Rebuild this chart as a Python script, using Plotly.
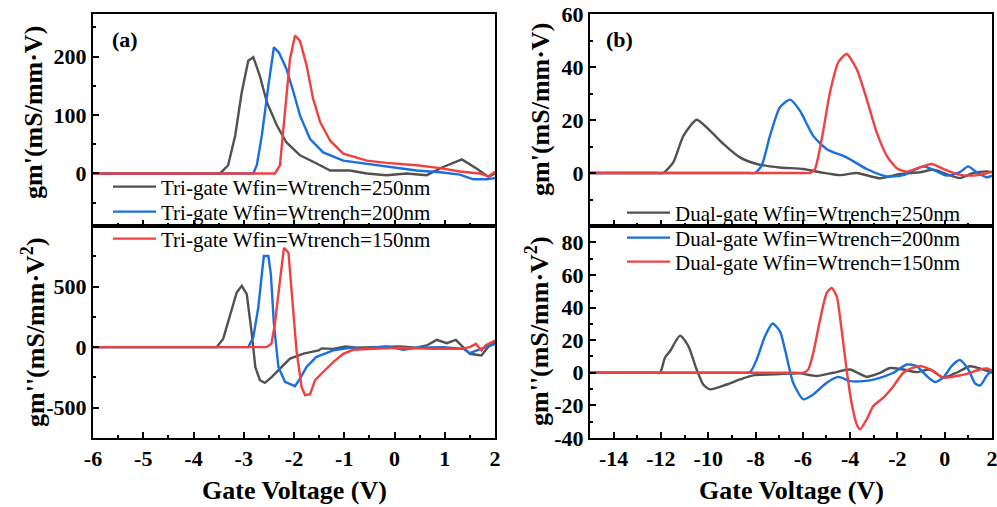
import plotly.graph_objects as go

# ---------------- data ----------------
# (a) Tri-gate, gm'
tri_x_250 = [-6, -3.47, -3.31, -3.17, -3.04, -2.91, -2.81, -2.68, -2.54, -2.34, -2.15, -1.88, -1.55, -1.28, -0.89, -0.55, -0.16, 0.24, 0.64, 0.97, 1.34, 1.64, 1.87, 2.0]
tri_gm1_250 = [0, 0, 14, 65, 139, 193, 199, 167, 122, 82, 53, 31, 17, 5, 5, 0, -3, 0, -3, 11, 24, 8, -6, 0]
tri_x_200 = [-6, -2.81, -2.74, -2.64, -2.51, -2.40, -2.30, -2.15, -2.01, -1.88, -1.68, -1.42, -1.02, -0.55, -0.02, 0.44, 0.91, 1.30, 1.57, 1.84, 2.0]
tri_gm1_200 = [0, 0, 14, 65, 150, 216, 207, 179, 139, 99, 59, 36, 22, 16.5, 11, 5, 2, -2, -10, -10, -8]
tri_x_150 = [-6, -2.38, -2.28, -2.18, -2.08, -1.98, -1.88, -1.75, -1.62, -1.48, -1.28, -1.02, -0.55, -0.16, 0.44, 0.91, 1.30, 1.70, 1.87, 2.0]
tri_gm1_150 = [0, 0, 14, 111, 196, 236, 227, 185, 128, 88, 56, 34, 22, 18, 14, 9, 3.4, 0, -5, 3]

# (a) Tri-gate, gm''
tri_x2_250 = [-6, -3.54, -3.41, -3.27, -3.14, -3.04, -2.94, -2.84, -2.77, -2.68, -2.58, -2.44, -2.28, -2.08, -1.81, -1.51, -1.45, -1.22, -0.98, -0.75, -0.42, 0.11, 0.44, 0.64, 0.84, 1.04, 1.22, 1.37, 1.50, 1.73, 1.87, 2.0]
tri_gm2_250 = [0, 0, 68, 274, 451, 506, 438, 110, -164, -273, -295, -246, -177, -95, -54, -27, -10, -14, 5, -5, 0, 5, -5, 14, 60, 33, 60, 0, -55, -68, 5, 50]
tri_x2_200 = [-6, -2.91, -2.81, -2.71, -2.64, -2.60, -2.51, -2.46, -2.40, -2.31, -2.18, -1.98, -1.88, -1.75, -1.56, -1.22, -0.89, -0.55, -0.15, 0.18, 0.44, 0.97, 1.37, 1.50, 1.64, 1.84, 2.0]
tri_gm2_200 = [0, 0, 82, 328, 601, 752, 752, 601, 192, -164, -287, -322, -259, -164, -82, -27, -5, -8, 5, -22, -5, 0, -14, -50, -27, 5, 27]
tri_x2_150 = [-6, -2.55, -2.45, -2.38, -2.28, -2.20, -2.11, -2.05, -1.95, -1.85, -1.78, -1.68, -1.58, -1.42, -1.22, -1.02, -0.82, -0.42, 0.11, 0.77, 1.30, 1.50, 1.62, 1.73, 1.81, 2.0]
tri_gm2_150 = [0, 0, 27, 192, 547, 820, 779, 465, -27, -328, -396, -388, -273, -205, -123, -55, -22, -14, -5, -14, -14, 0, 27, -27, 14, 55]

# (b) Dual-gate, gm'
dual_x_250 = [-15, -12.2, -11.90, -11.48, -11.05, -10.49, -9.93, -9.36, -8.66, -7.95, -6.97, -5.98, -5.27, -4.43, -3.72, -2.74, -1.89, -1.05, -0.48, 0.08, 0.64, 1.21, 1.77, 2.0]
dual_gm1_250 = [0, 0, 0, 4, 14, 20.1, 16, 11, 5.9, 3.4, 2.1, 1.5, 0.3, -0.8, 0, -2, -0.4, 0.3, 1.2, -0.4, -1.9, 0, 0.6, 0.3]
dual_x_200 = [-15, -8.3, -8.02, -7.74, -7.39, -6.97, -6.54, -6.12, -5.56, -4.99, -4.15, -3.30, -2.45, -1.75, -0.91, -0.48, 0.08, 0.64, 0.99, 1.35, 1.77, 2.0]
dual_gm1_200 = [0, 0, 0, 2.8, 14, 24.8, 27.7, 23.5, 14, 9, 5.9, 1.5, -1.3, -0.8, 2.5, 1.2, -1, 0.3, 2.5, 0.3, -1.6, -1]
dual_x_150 = [-15, -6.0, -5.70, -5.49, -5.20, -4.85, -4.50, -4.15, -3.72, -3.30, -2.88, -2.45, -2.03, -1.61, -1.05, -0.55, -0.05, 0.51, 1.07, 1.63, 2.0]
dual_gm1_150 = [0, 0, 0, 1.5, 12.8, 30.5, 41.8, 44.9, 39.2, 27.9, 15.4, 6.5, 1.8, 0.5, 2.1, 3.4, 1.5, -0.4, -1, -0.4, 0.5]

# (b) Dual-gate, gm''
dual_x2_250 = [-15, -12.3, -12.04, -11.83, -11.62, -11.19, -10.84, -10.49, -10.21, -9.93, -9.22, -8.66, -8.10, -6.97, -6.12, -5.42, -4.71, -4.01, -3.30, -2.73, -2.31, -1.75, -1.19, -0.62, -0.06, 0.50, 1.07, 1.63, 2.0]
dual_gm2_250 = [0, 0, 0, 9.2, 13.2, 22.8, 16.3, 2, -7.2, -10.2, -7.2, -4.1, -1.6, -0.8, -0.4, -2, 0, 2, -2.4, 0, 2.9, 2, 0.4, 2, -3, 0, 4, 2, 0]
dual_x2_200 = [-15, -9.1, -8.80, -8.23, -7.95, -7.60, -7.28, -6.97, -6.69, -6.41, -5.98, -5.56, -4.99, -4.50, -4.01, -3.44, -2.88, -2.17, -1.61, -1.19, -0.76, -0.41, -0.06, 0.29, 0.64, 1.00, 1.28, 1.49, 1.77, 2.0]
dual_gm2_200 = [0, 0, 0, 0.4, 8.2, 22.4, 30.2, 25.5, 10.2, -6.1, -16.3, -13.3, -6.1, -2.5, -5.1, -5.1, -3.7, 0, 5.1, 4.1, -2, -5.7, -3, 4.1, 7.8, 2, -6.5, -7.8, -2, 2]
dual_x2_150 = [-15, -6.3, -5.98, -5.77, -5.56, -5.27, -4.99, -4.78, -4.57, -4.36, -4.15, -3.94, -3.72, -3.58, -3.30, -3.02, -2.60, -2.17, -1.75, -1.33, -0.98, -0.48, -0.06, 0.50, 1.00, 1.49, 1.84, 2.0]
dual_gm2_150 = [0, 0, 0, 2, 12.2, 32.7, 49, 52, 47, 26.5, 2, -18.4, -31.7, -34.7, -28.6, -20.4, -15.3, -8.2, 0, 3.1, 4.1, 1, -3, -2, -0.4, 2, 2.5, 1]

tri_names = ["Tri-gate Wfin=Wtrench=250nm", "Tri-gate Wfin=Wtrench=200nm", "Tri-gate Wfin=Wtrench=150nm"]
dual_names = ["Dual-gate Wfin=Wtrench=250nm", "Dual-gate Wfin=Wtrench=200nm", "Dual-gate Wfin=Wtrench=150nm"]
colors = ["#515151", "#1A6FDF", "#F14040"]

# tick values / labels
left_x_ticks = [-6, -5, -4, -3, -2, -1, 0, 1, 2]
right_x_ticks = [-14, -12, -10, -8, -6, -4, -2, 0, 2]
left_top_y_ticks = [0, 100, 200]
left_bot_y_ticks = [-500, 0, 500]
right_top_y_ticks = [0, 20, 40, 60]
right_bot_y_ticks = [-40, -20, 0, 20, 40, 60, 80]


def labels(vals):
    return [str(v) for v in vals]


# ---------------- figure ----------------
W, H = 997, 507
fig = go.Figure()


def px_x(p):
    return p / W


def px_y(p):
    return 1 - p / H


LX = [px_x(93), px_x(495)]
RX = [px_x(590), px_x(992)]
TOPY = [px_y(226), px_y(14)]
BOTY = [px_y(438), px_y(226)]

LW = 2.4
panels = [
    ("x", "y", [tri_x_250, tri_x_200, tri_x_150], [tri_gm1_250, tri_gm1_200, tri_gm1_150], tri_names, ["legend", "legend2", "legend3"], True, "linear"),
    ("x2", "y2", [tri_x2_250, tri_x2_200, tri_x2_150], [tri_gm2_250, tri_gm2_200, tri_gm2_150], tri_names, ["legend", "legend2", "legend3"], False, "linear"),
    ("x3", "y3", [dual_x_250, dual_x_200, dual_x_150], [dual_gm1_250, dual_gm1_200, dual_gm1_150], dual_names, ["legend4", "legend5", "legend6"], True, "spline"),
    ("x4", "y4", [dual_x2_250, dual_x2_200, dual_x2_150], [dual_gm2_250, dual_gm2_200, dual_gm2_150], dual_names, ["legend4", "legend5", "legend6"], False, "spline"),
]
for xa, ya, xs, ys, names, legs, show, shape in panels:
    for i in range(3):
        line = dict(color=colors[i], width=LW, shape=shape)
        if shape == "spline":
            line["smoothing"] = 0.6
        fig.add_trace(go.Scatter(
            x=xs[i], y=ys[i], mode="lines", name=names[i], line=line,
            xaxis=xa, yaxis=ya, legend=legs[i], showlegend=show,
        ))

tickfont = dict(family="Liberation Serif", size=22, color="black", weight="bold")
axis_common = dict(showline=True, linecolor="black", linewidth=2, mirror=True,
                   ticks="inside", ticklen=6, tickwidth=2, tickcolor="black",
                   showgrid=False, zeroline=False, tickfont=tickfont, automargin=False,
                   ticklabeloverflow="allow")


def minor(**kw):
    d = dict(ticks="inside", ticklen=3, tickwidth=2, tickcolor="black")
    d.update(kw)
    return d


legend_font = dict(family="Liberation Serif", size=21, color="black")


def leg(xp, yp):
    return dict(x=px_x(xp), y=px_y(yp), xanchor="left", yanchor="middle",
                bgcolor="rgba(0,0,0,0)", font=legend_font, itemwidth=43,
                tracegroupgap=0, borderwidth=0)


fig.update_layout(
    width=W, height=H, margin=dict(l=0, r=0, t=0, b=0, autoexpand=False),
    paper_bgcolor="white", plot_bgcolor="white",
    xaxis=dict(domain=LX, anchor="y", range=[-6, 2], tickvals=left_x_ticks, showticklabels=False,
               minor=minor(dtick=0.5), **axis_common),
    yaxis=dict(domain=TOPY, anchor="x", range=[-90, 273], tickvals=left_top_y_ticks, ticktext=labels(left_top_y_ticks),
               minor=minor(tickvals=[-50, 50, 150, 250]), **axis_common),
    xaxis2=dict(domain=LX, anchor="y2", range=[-6, 2], tickvals=left_x_ticks, ticktext=labels(left_x_ticks),
                minor=minor(dtick=0.5), **axis_common),
    yaxis2=dict(domain=BOTY, anchor="x2", range=[-750, 1000], tickvals=left_bot_y_ticks, ticktext=labels(left_bot_y_ticks),
                minor=minor(tickvals=[-250, 250, 750]), **axis_common),
    xaxis3=dict(domain=RX, anchor="y3", range=[-15, 2], tickvals=right_x_ticks, showticklabels=False,
                minor=minor(dtick=1), **axis_common),
    yaxis3=dict(domain=TOPY, anchor="x3", range=[-20, 60], tickvals=right_top_y_ticks, ticktext=labels(right_top_y_ticks),
                minor=minor(dtick=10), **axis_common),
    xaxis4=dict(domain=RX, anchor="y4", range=[-15, 2], tickvals=right_x_ticks, ticktext=labels(right_x_ticks),
                minor=minor(dtick=1), **axis_common),
    yaxis4=dict(domain=BOTY, anchor="x4", range=[-40, 90], tickvals=right_bot_y_ticks, ticktext=labels(right_bot_y_ticks),
                minor=minor(dtick=10), **axis_common),
    legend=leg(108, 187),
    legend2=leg(108, 212),
    legend3=leg(108, 239),
    legend4=leg(622, 213),
    legend5=leg(622, 238),
    legend6=leg(622, 262),
)

title_font = dict(family="Liberation Serif", size=26, color="black", weight="bold")
ann = [
    dict(text="(a)", x=px_x(110), y=px_y(40), xanchor="left", yanchor="middle",
         font=dict(family="Liberation Serif", size=22, color="black", weight="bold")),
    dict(text="(b)", x=px_x(604), y=px_y(40), xanchor="left", yanchor="middle",
         font=dict(family="Liberation Serif", size=22, color="black", weight="bold")),
    dict(text="gm'(mS/mm·V)", x=px_x(33), y=px_y(113), textangle=-90, font=title_font),
    dict(text="gm''(mS/mm·V<sup>2</sup>)", x=px_x(33), y=px_y(332), textangle=-90, font=title_font),
    dict(text="gm'(mS/mm·V)", x=px_x(540), y=px_y(110), textangle=-90, font=title_font),
    dict(text="gm''(mS/mm·V<sup>2</sup>)", x=px_x(537), y=px_y(331), textangle=-90, font=title_font),
    dict(text="Gate Voltage (V)", x=px_x(294), y=px_y(490), font=title_font),
    dict(text="Gate Voltage (V)", x=px_x(791), y=px_y(490), font=title_font),
]
for a in ann:
    a.setdefault("xanchor", "center")
    a.setdefault("yanchor", "middle")
    a.update(xref="paper", yref="paper", showarrow=False)
    fig.add_annotation(**a)

fig.write_html("out.html")
